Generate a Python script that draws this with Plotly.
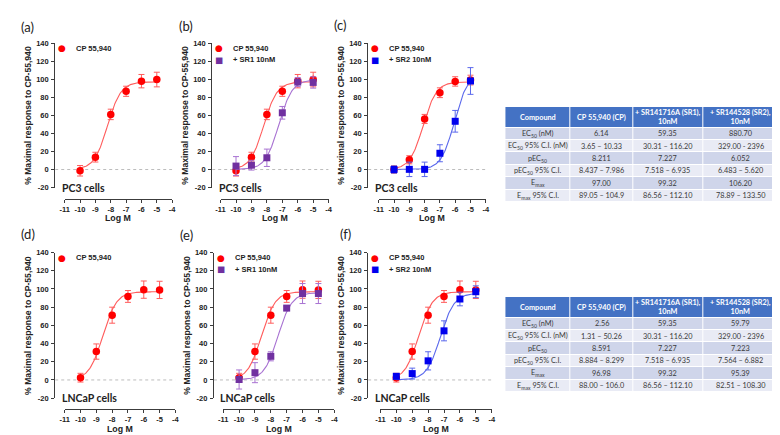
import numpy as np
import plotly.graph_objects as go

W, H = 780, 435

# ---- data ----
LOG_M = [-10, -9, -8, -7, -6, -5]
X_TICKS = [-11, -10, -9, -8, -7, -6, -5, -4]
Y_TICKS = [-20, 0, 20, 40, 60, 80, 100, 120, 140]

# PC3 cells (% maximal response, mean and error)
PC3_CP = [-1.4, 13.7, 61.0, 86.6, 97.8, 99.6]
PC3_CP_ERR = [5.8, 5.4, 5.8, 5.6, 7.4, 8.1]
PC3_CP_C = [0.0, 10.8, 56.0, 85.0, 97.5, 99.0]
PC3_CP_C_ERR = [4.2, 4.5, 5.0, 5.4, 5.2, 5.4]
PC3_SR1 = [3.8, 4.8, 13.0, 62.8, 96.8, 96.4]
PC3_SR1_ERR = [10.5, 5.4, 9.6, 7.0, 5.0, 6.3]
PC3_SR2 = [0.0, 0.2, 0.2, 18.0, 53.4, 98.0]
PC3_SR2_ERR = [4.0, 8.0, 8.0, 9.4, 12.0, 14.8]

# LNCaP cells
LNCAP_CP = [2.5, 31.2, 71.2, 91.8, 99.3, 99.0]
LNCAP_CP_ERR = [4.8, 8.4, 8.8, 6.5, 9.5, 9.5]
LNCAP_SR1 = [0.5, 8.0, 26.0, 79.0, 95.0, 95.0]
LNCAP_SR1_ERR = [10.5, 11.0, 5.0, 2.0, 11.0, 11.0]
LNCAP_SR2 = [4.0, 7.0, 21.0, 54.0, 89.0, 97.0]
LNCAP_SR2_ERR = [3.0, 6.0, 10.0, 11.0, 7.5, 6.5]

# fitted sigmoid parameters (log EC50, top), hill slope 1, bottom 0
FIT_PC3_CP = (-8.211, 97.0)
FIT_PC3_CP_C = (-8.10, 97.0)
FIT_PC3_SR1 = (-7.227, 99.32)
FIT_PC3_SR2 = (-6.052, 106.2)
FIT_LNCAP_CP = (-8.591, 96.98)
FIT_LNCAP_SR1 = (-7.55, 96.0)
FIT_LNCAP_SR2 = (-7.223, 95.39)

# tables
TABLE_HEADER = ["Compound", "CP 55,940 (CP)", "+ SR141716A (SR1),<br>10nM", "+ SR144528 (SR2),<br>10nM"]
TABLE_ROWS = ["EC<sub>50</sub> (nM)", "EC<sub>50</sub> 95% C.I. (nM)", "pEC<sub>50</sub>",
              "pEC<sub>50</sub> 95% C.I.", "E<sub>max</sub>", "E<sub>max</sub> 95% C.I."]
PC3_TAB_CP = ["6.14", "3.65 – 10.33", "8.211", "8.437 – 7.986", "97.00", "89.05 – 104.9"]
PC3_TAB_SR1 = ["59.35", "30.31 – 116.20", "7.227", "7.518 – 6.935", "99.32", "86.56 – 112.10"]
PC3_TAB_SR2 = ["880.70", "329.00 - 2396", "6.052", "6.483 – 5.620", "106.20", "78.89 – 133.50"]
LNCAP_TAB_CP = ["2.56", "1.31 – 50.26", "8.591", "8.884 – 8.299", "96.98", "88.00 – 106.0"]
LNCAP_TAB_SR1 = ["59.35", "30.31 – 116.20", "7.227", "7.518 – 6.935", "99.32", "86.56 – 112.10"]
LNCAP_TAB_SR2 = ["59.79", "329.00 - 2396", "7.223", "7.564 – 6.882", "95.39", "82.51 – 108.30"]

# ---- styles ----
RED, RED_LT = "#ff0000", "#ff5c5c"
PUR, PUR_LT = "#7030a0", "#a872d2"
BLU, BLU_LT = "#0000ee", "#5a68ec"
AXC = "#3c3c3c"
ARIAL = "Liberation Sans, Arial"
CAL = "Lato, Noto Sans"

CP_S = ("CP 55,940", RED, RED_LT, "circle", "●")
SR1_S = ("+ SR1 10nM", PUR, PUR_LT, "square", "■")
SR2_S = ("+ SR2 10nM", BLU, BLU_LT, "square", "■")

# geometry in pixels: y-axis x, x of -11, x of -4 ; row: y of 140, y of -20, x-axis line y
TOP = (31.7, 179.3, 190.7)
BOT = (245.7, 394.3, 405.5)
panels = [
    dict(lab="(a)", labxy=(6, 15), cells="PC3 cells", row=TOP, px=(42.7, 52.3, 161.0),
         series=[(CP_S, PC3_CP, PC3_CP_ERR, FIT_PC3_CP)]),
    dict(lab="(b)", labxy=(165.5, 14), cells="PC3 cells", row=TOP, px=(201.5, 210.0, 319.3),
         series=[(CP_S, PC3_CP, PC3_CP_ERR, FIT_PC3_CP), (SR1_S, PC3_SR1, PC3_SR1_ERR, FIT_PC3_SR1)]),
    dict(lab="(c)", labxy=(322.5, 13.5), cells="PC3 cells", row=TOP, px=(359.3, 370.0, 478.3),
         series=[(CP_S, PC3_CP_C, PC3_CP_C_ERR, FIT_PC3_CP_C), (SR2_S, PC3_SR2, PC3_SR2_ERR, FIT_PC3_SR2)]),
    dict(lab="(d)", labxy=(6.5, 227), cells="LNCaP cells", row=BOT, px=(42.7, 52.3, 164.3),
         series=[(CP_S, LNCAP_CP, LNCAP_CP_ERR, FIT_LNCAP_CP)]),
    dict(lab="(e)", labxy=(166.5, 228), cells="LNCaP cells", row=BOT, px=(203.3, 212.7, 325.0),
         series=[(CP_S, LNCAP_CP, LNCAP_CP_ERR, FIT_LNCAP_CP), (SR1_S, LNCAP_SR1, LNCAP_SR1_ERR, FIT_LNCAP_SR1)]),
    dict(lab="(f)", labxy=(329, 226.5), cells="LNCaP cells", row=BOT, px=(359.3, 371.7, 484.3),
         series=[(CP_S, LNCAP_CP, LNCAP_CP_ERR, FIT_LNCAP_CP), (SR2_S, LNCAP_SR2, LNCAP_SR2_ERR, FIT_LNCAP_SR2)]),
]


def fx(p):
    return p / W


def fy(p):
    return 1 - p / H


fig = go.Figure()
annotations = []
layout = {}
tickfont = dict(family=ARIAL, size=7.5, color="#222", weight="bold")

for i, pn in enumerate(panels, start=1):
    ya, x11, x4 = pn["px"]
    y140, ym20, xline = pn["row"]
    step = (x4 - x11) / 7.0
    xmin = -11 - (x11 - ya) / step
    xa, yax = ("x" if i == 1 else f"x{i}"), ("y" if i == 1 else f"y{i}")
    xd = f"x{i + 6}"

    layout["xaxis" if i == 1 else f"xaxis{i}"] = dict(
        domain=[fx(ya), fx(x4)], range=[xmin, -4], anchor=yax, visible=False, fixedrange=True)
    layout["yaxis" if i == 1 else f"yaxis{i}"] = dict(
        domain=[fy(ym20), fy(y140)], range=[-20, 140], anchor=xa, tickvals=Y_TICKS,
        ticktext=[str(v) for v in Y_TICKS],
        ticks="outside", ticklen=3, tickcolor=AXC, showline=True, linecolor=AXC, linewidth=1,
        showgrid=False, zeroline=False, tickfont=tickfont, ticklabelstandoff=1)
    layout[f"xaxis{i + 6}"] = dict(
        domain=[fx(x11), fx(x4)], range=[-11, -4], anchor="free", position=fy(xline),
        tickvals=X_TICKS, ticktext=[str(v) for v in X_TICKS], ticks="outside", ticklen=3,
        tickcolor=AXC, showline=True, linecolor=AXC, linewidth=1, showgrid=False, zeroline=False,
        tickfont=tickfont, ticklabelstandoff=0)

    # display axis holder
    fig.add_trace(go.Scatter(x=[None], y=[None], xaxis=xd, yaxis=yax, showlegend=False, hoverinfo="skip"))
    # dashed baseline at 0
    fig.add_trace(go.Scatter(x=[xmin, -4], y=[0, 0], xaxis=xa, yaxis=yax, mode="lines",
                             line=dict(color="#b4b4b4", width=0.9, dash="dot"), showlegend=False,
                             hoverinfo="skip"))

    for k, (sty, yv, ev, fit) in enumerate(pn["series"]):
        name, col, col_lt, sym, glyph = sty
        xs = np.linspace(LOG_M[0], LOG_M[-1], 120)
        ys = fit[1] / (1 + 10 ** (fit[0] - xs))
        fig.add_trace(go.Scatter(x=xs, y=ys, xaxis=xa, yaxis=yax, mode="lines",
                                 line=dict(color=col_lt, width=1.1), showlegend=False, hoverinfo="skip"))
        fig.add_trace(go.Scatter(x=LOG_M, y=yv, xaxis=xa, yaxis=yax, mode="markers", name=name,
                                 marker=dict(color=col, size=7.5 if sym == "circle" else 7, symbol=sym),
                                 error_y=dict(type="data", array=ev, color=col_lt, thickness=1, width=3),
                                 showlegend=False, cliponaxis=False))
        ly = y140 + 5.2 + k * 11.8
        annotations.append(dict(x=fx(ya + 7), y=fy(ly), xref="paper", yref="paper", text=glyph,
                                showarrow=False, xanchor="center", yanchor="middle",
                                font=dict(family="DejaVu Sans", size=9 if sym == "circle" else 8.5, color=col)))
        annotations.append(dict(x=fx(ya + 19), y=fy(ly), xref="paper", yref="paper", text=name,
                                showarrow=False, xanchor="left", yanchor="middle",
                                font=dict(family=ARIAL, size=7.5, color="#222", weight="bold")))

    annotations.append(dict(x=fx(pn["labxy"][0]), y=fy(pn["labxy"][1]), xref="paper", yref="paper",
                            text=pn["lab"], showarrow=False, xanchor="left", yanchor="middle",
                            font=dict(family=CAL, size=13, color="#222")))
    annotations.append(dict(x=fx(ya - 27), y=fy((y140 + ym20) / 2), xref="paper", yref="paper",
                            text="% Maximal response to CP-55,940", textangle=-90, showarrow=False,
                            xanchor="center", yanchor="middle",
                            font=dict(family=ARIAL, size=8.6, color="#222", weight="bold")))
    annotations.append(dict(x=0.5, y=fy(xline + 20), xref=f"{xd} domain", yref="paper", text="Log M",
                            showarrow=False, xanchor="center", yanchor="middle",
                            font=dict(family=ARIAL, size=8.8, color="#222", weight="bold")))
    annotations.append(dict(x=fx(ya + 4.5), y=fy(ym20), xref="paper", yref="paper", text=pn["cells"],
                            showarrow=False, xanchor="left", yanchor="middle",
                            font=dict(family=CAL, size=10.5, color="#222", weight="bold")))

# ---- parameter tables (heatmap cells + text) ----
TAB_X = (498, 774)
COL_EDGES = [0, 66, 129, 200, 276]
ROW_EDGES = [0, 21, 33.7, 46.4, 59.1, 71.8, 84.5, 97.2]
ROW_SHADE = [2, 1, 0, 1, 0, 1, 0]   # header, then alternating bands
col_mid = [(a + b) / 2 for a, b in zip(COL_EDGES[:-1], COL_EDGES[1:])]
row_mid = [(a + b) / 2 for a, b in zip(ROW_EDGES[:-1], ROW_EDGES[1:])]

for t, ((top, bottom), cols) in enumerate([((97, 194), [PC3_TAB_CP, PC3_TAB_SR1, PC3_TAB_SR2]),
                                           ((291, 388), [LNCAP_TAB_CP, LNCAP_TAB_SR1, LNCAP_TAB_SR2])]):
    n = 13 + t
    layout[f"xaxis{n}"] = dict(domain=[fx(TAB_X[0]), fx(TAB_X[1])], range=[0, COL_EDGES[-1]],
                               anchor=f"y{n}", visible=False, fixedrange=True)
    layout[f"yaxis{n}"] = dict(domain=[fy(bottom), fy(top)], range=[ROW_EDGES[-1], 0],
                               anchor=f"x{n}", visible=False, fixedrange=True)
    fig.add_trace(go.Heatmap(x=COL_EDGES, y=ROW_EDGES, z=[[s] * 4 for s in ROW_SHADE],
                             xaxis=f"x{n}", yaxis=f"y{n}", zmin=0, zmax=2, showscale=False,
                             colorscale=[[0, "#e9ebf5"], [0.5, "#cfd5ea"], [1, "#4472c4"]],
                             xgap=1, ygap=1, hoverinfo="skip"))
    table = [[TABLE_HEADER[c]] + ([TABLE_ROWS] + cols)[c] for c in range(4)]
    for c in range(4):
        for r in range(7):
            hdr = r == 0
            annotations.append(dict(
                x=col_mid[c], y=row_mid[r], xref=f"x{n}", yref=f"y{n}",
                text=table[c][r], showarrow=False, xanchor="center", yanchor="middle",
                font=dict(family=CAL, size=7.3, color="white" if hdr else "#3a3a3a",
                          weight="bold" if hdr else "normal")))

fig.update_layout(width=W, height=H, margin=dict(l=0, r=0, t=0, b=0), autosize=False,
                  paper_bgcolor="white", plot_bgcolor="rgba(0,0,0,0)", showlegend=False,
                  annotations=annotations, **layout)

fig.write_html("out.html")
